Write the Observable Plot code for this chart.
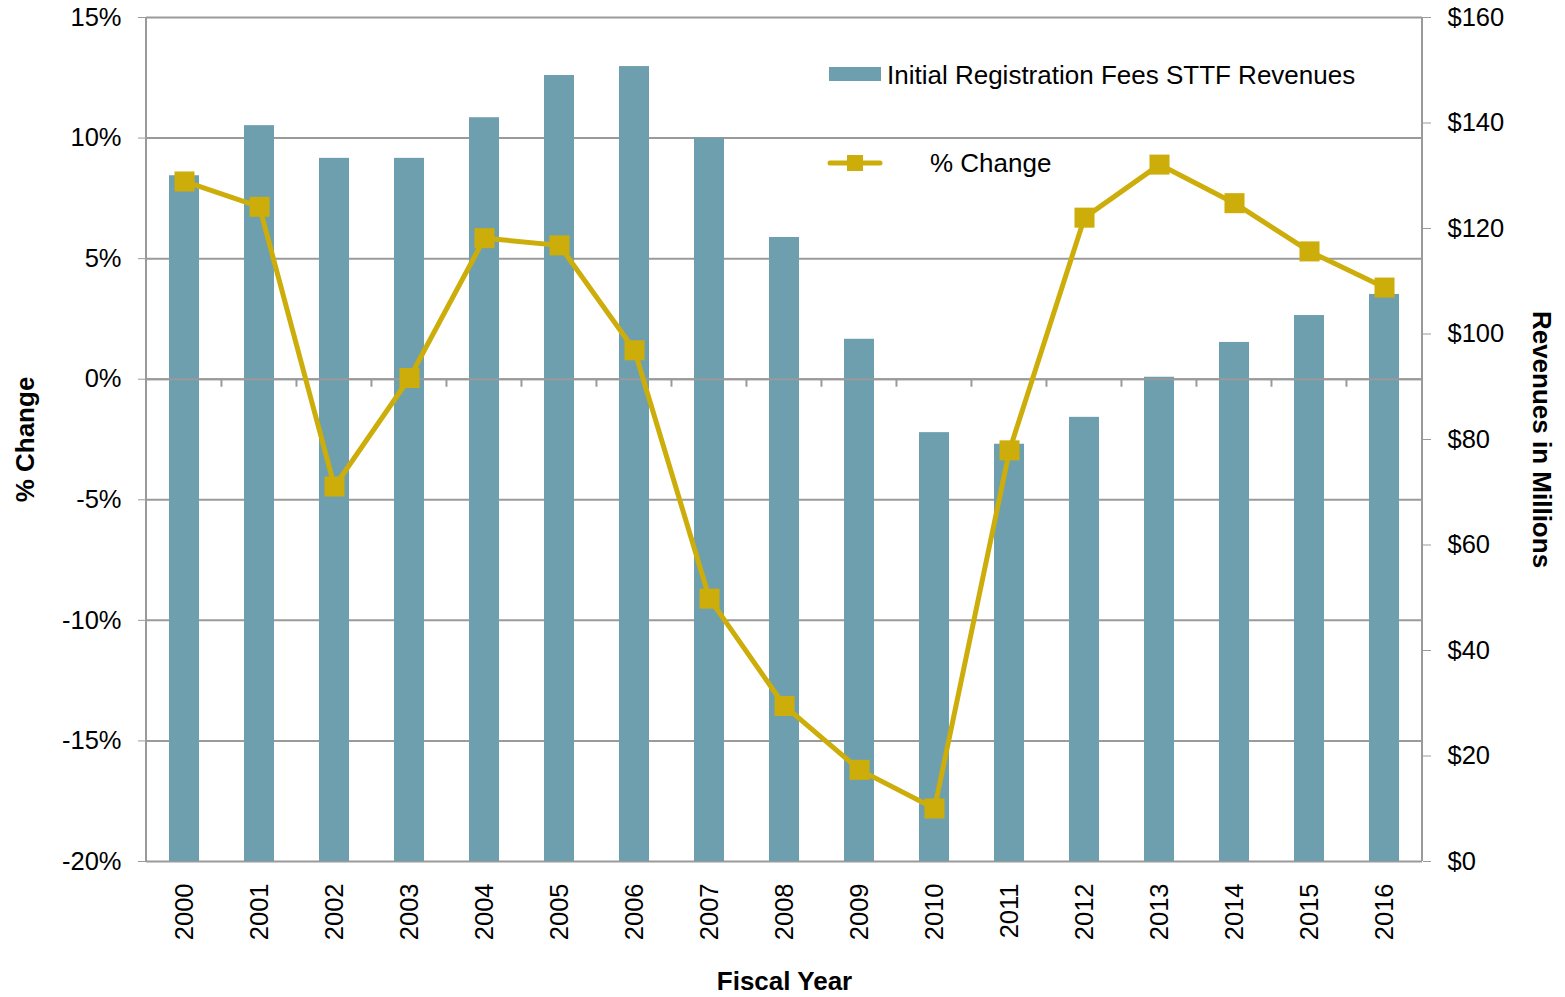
<!DOCTYPE html>
<html><head><meta charset="utf-8">
<script src="https://cdn.jsdelivr.net/npm/d3@7"></script>
<script src="https://cdn.jsdelivr.net/npm/@observablehq/plot@0.6"></script>
<style>body{margin:0;background:#fff} svg{display:block}</style>
</head><body><div id="chart"></div>
<script>
const years = ["2000","2001","2002","2003","2004","2005","2006","2007","2008","2009","2010","2011","2012","2013","2014","2015","2016"];
const revenue = [130.0,139.5,133.3,133.3,141.0,149.0,150.7,137.1,118.3,99.0,81.3,79.1,84.2,91.8,98.4,103.5,107.5];
const pctChange = [8.2,7.15,-4.45,0.05,5.85,5.55,1.2,-9.1,-13.55,-16.2,-17.8,-2.95,6.7,8.9,7.3,5.3,3.8];
const pctTicks = [-20,-15,-10,-5,0,5,10,15];
const revTicks = [0,20,40,60,80,100,120,140,160];
const seriesNames = ["Initial Registration Fees STTF Revenues", "% Change"];

const W = 1565, H = 997, mL = 146, mR = 143, mT = 17, mB = 136;
const barColor = "#6E9FAF", gold = "#CCAD0A", gray = "#9A9A9A";
const font = "'Liberation Sans', Arial, sans-serif";
const step = (W - mL - mR) / years.length;
const data = years.map((year, i) => ({year, revenue: revenue[i], pct: pctChange[i]}));
const revToY = v => -20 + v * 35 / 160;

const extras = (index, scales, values, dims) => {
  const g = d3.create("svg:g");
  const xs = scales.x, ys = scales.y;
  const bw = xs.bandwidth ? xs.bandwidth() : 0;
  const y0 = ys(0);
  // axis lines
  g.append("line").attr("x1", dims.marginLeft).attr("x2", dims.marginLeft)
    .attr("y1", dims.marginTop).attr("y2", dims.height - dims.marginBottom)
    .attr("stroke", gray).attr("stroke-width", 2);
  g.append("line").attr("x1", dims.width - dims.marginRight).attr("x2", dims.width - dims.marginRight)
    .attr("y1", dims.marginTop).attr("y2", dims.height - dims.marginBottom)
    .attr("stroke", gray).attr("stroke-width", 2);
  // category boundary ticks on zero line
  years.slice(1).forEach(yr => {
    const bx = xs(yr) + bw / 2 - step / 2;
    g.append("line").attr("x1", bx).attr("x2", bx).attr("y1", y0).attr("y2", y0 + 8)
      .attr("stroke", gray).attr("stroke-width", 2);
  });
  // legend
  const lg = g.append("g").attr("font-family", font).attr("font-size", 26).attr("fill", "#000").attr("text-anchor", "start");
  lg.append("rect").attr("x", 829).attr("y", 67).attr("width", 52).attr("height", 14).attr("fill", barColor);
  lg.append("text").attr("x", 887).attr("y", 84).text(seriesNames[0]);
  lg.append("line").attr("x1", 830).attr("x2", 880).attr("y1", 163).attr("y2", 163)
    .attr("stroke", gold).attr("stroke-width", 5).attr("stroke-linecap", "round");
  lg.append("rect").attr("x", 847).attr("y", 155).attr("width", 16).attr("height", 16).attr("fill", gold);
  lg.append("text").attr("x", 930).attr("y", 172).text(seriesNames[1]);
  return g.node();
};

const chart = Plot.plot({
  width: W, height: H,
  marginLeft: mL, marginRight: mR, marginTop: mT, marginBottom: mB,
  style: {fontFamily: font, fontSize: "25.5px", color: "#000", background: "#fff", overflow: "visible"},
  x: {type: "band", domain: years, paddingInner: 0.6, paddingOuter: 0.3, align: 0.5},
  y: {domain: [-20, 15]},
  marks: [
    Plot.gridY(pctTicks, {stroke: gray, strokeOpacity: 1, strokeWidth: 2}),
    Plot.barY(data, {x: "year", y1: -20, y2: d => revToY(d.revenue), fill: barColor}),
    Plot.ruleY([0], {stroke: gray, strokeWidth: 2}),
    Plot.axisY(pctTicks, {anchor: "left", tickFormat: d => d + "%", tickSize: 8, tickPadding: 17, stroke: gray, strokeOpacity: 1, label: null}),
    Plot.axisY(revTicks.map(revToY), {anchor: "right", tickFormat: d => "$" + Math.round((d + 20) * 160 / 35), tickSize: 8, tickPadding: 17, stroke: gray, strokeOpacity: 1, label: null}),
    Plot.axisX({anchor: "bottom", tickRotate: -90, tickSize: 0, tickPadding: 22, label: null}),
    extras,
    Plot.lineY(data, {x: "year", y: "pct", stroke: gold, strokeWidth: 5}),
    Plot.dot(data, {x: "year", y: "pct", symbol: "square", r: 11.3, fill: gold, stroke: "none"}),
    Plot.text(["% Change"], {frameAnchor: "left", dx: -121, rotate: -90, textAnchor: "middle", fontWeight: "bold", fontSize: 26}),
    Plot.text(["Revenues in Millions"], {frameAnchor: "right", dx: 119, rotate: 90, textAnchor: "middle", fontWeight: "bold", fontSize: 26}),
    Plot.text(["Fiscal Year"], {frameAnchor: "bottom", dy: 128, fontWeight: "bold", fontSize: 26})
  ]
});
document.getElementById("chart").append(chart);
</script>
</body></html>
